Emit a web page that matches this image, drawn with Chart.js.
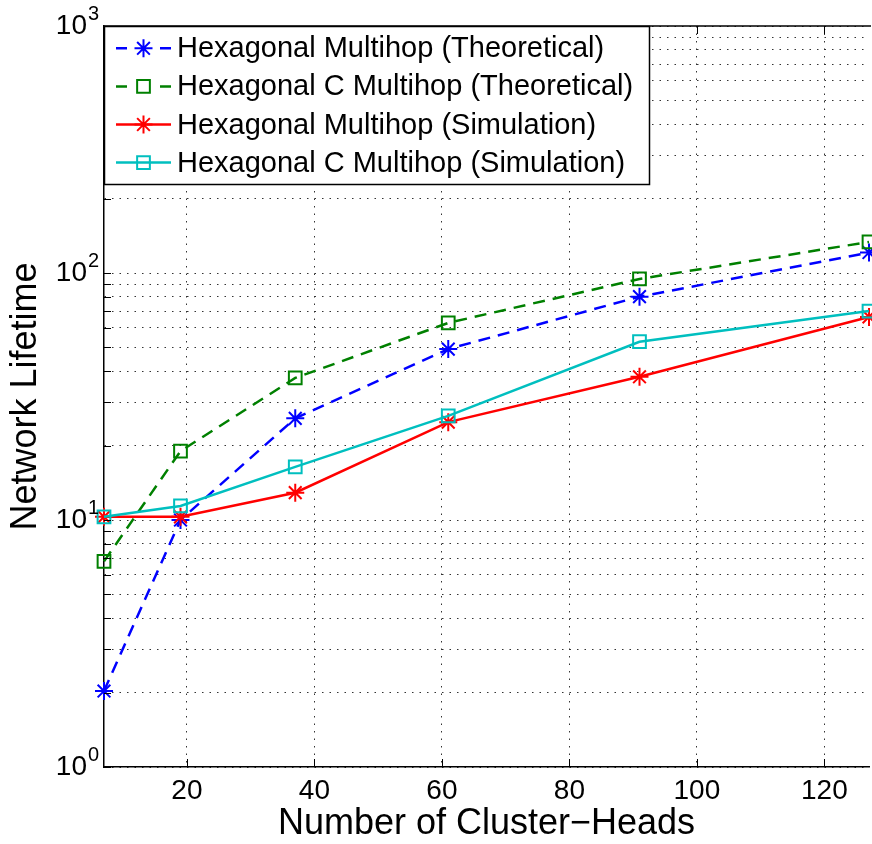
<!DOCTYPE html>
<html><head><meta charset="utf-8">
<script src="https://cdn.jsdelivr.net/npm/chart.js@4.4.0/dist/chart.umd.min.js"></script>
<style>
html,body{margin:0;padding:0;background:#fff;overflow:hidden;width:872px;height:844px;}
#wrap{width:880px;height:844px;}
canvas{display:block;}
</style></head><body>
<div id="wrap"><canvas id="c" width="880" height="844"></canvas></div>
<script>
// ---- data ----
const xValues = [7, 19, 37, 61, 91, 127];
const hexTheoretical  = [2.03, 10.0, 25.8, 49.2, 80.2, 121];
const hexCTheoretical = [6.8, 19.0, 37.6, 62.8, 94.6, 133.6];
const hexSimulation   = [10.3, 10.3, 12.9, 24.9, 38.0, 66.4];
const hexCSimulation  = [10.3, 11.4, 16.4, 26.4, 52.7, 70.1];
const seriesLabels = [
  'Hexagonal Multihop (Theoretical)',
  'Hexagonal C Multihop (Theoretical)',
  'Hexagonal Multihop (Simulation)',
  'Hexagonal C Multihop (Simulation)'
];
const xTicks = [20, 40, 60, 80, 100, 120];
const yTicks = [1,2,3,4,5,6,7,8,9,10,20,30,40,50,60,70,80,90,100,200,300,400,500,600,700,800,900,1000];
const yDecadeExp = {1:'0', 10:'1', 100:'2', 1000:'3'};
const xTitle = 'Number of Cluster\u2212Heads';
const yTitle = 'Network Lifetime';

const FONT = "'Liberation Sans', Arial, Helvetica, sans-serif";
const toPts = arr => arr.map((v, i) => ({x: xValues[i], y: v}));

function mkSet(label, data, color, dashed, style, order) {
  return {
    label, data: toPts(data),
    borderColor: color, backgroundColor: 'rgba(0,0,0,0)',
    borderWidth: 2.5, borderDash: dashed ? [12, 8] : [],
    pointStyle: style, pointRadius: 9, pointHoverRadius: 9,
    pointBorderColor: color, pointBackgroundColor: 'rgba(0,0,0,0)', pointBorderWidth: 2,
    tension: 0, clip: false, order
  };
}

function drawMarker(ctx, style, x, y, r) {
  ctx.beginPath();
  if (style === 'star') {
    ctx.moveTo(x, y - r); ctx.lineTo(x, y + r);
    ctx.moveTo(x - r, y); ctx.lineTo(x + r, y);
    const d = Math.SQRT1_2 * r;
    ctx.moveTo(x - d, y - d); ctx.lineTo(x + d, y + d);
    ctx.moveTo(x - d, y + d); ctx.lineTo(x + d, y - d);
  } else {
    const s = Math.SQRT1_2 * r;
    ctx.rect(x - s, y - s, 2 * s, 2 * s);
  }
  ctx.stroke();
}

const decorPlugin = {
  id: 'decor',
  afterDraw(chart) {
    const ctx = chart.ctx, ca = chart.chartArea;
    const xs = chart.scales.x, ys = chart.scales.y;
    ctx.save();
    // inward tick marks
    ctx.strokeStyle = '#000'; ctx.lineWidth = 1;
    ctx.beginPath();
    xTicks.forEach(v => {
      const px = Math.round(xs.getPixelForValue(v)) + 0.5;
      ctx.moveTo(px, ca.bottom); ctx.lineTo(px, ca.bottom - 8);
      ctx.moveTo(px, ca.top); ctx.lineTo(px, ca.top + 8);
    });
    yTicks.forEach(v => {
      const py = Math.round(ys.getPixelForValue(v)) + 0.5;
      ctx.moveTo(ca.left, py); ctx.lineTo(ca.left + 7, py);
    });
    ctx.stroke();
    // top border
    ctx.lineWidth = 1.5;
    ctx.beginPath(); ctx.moveTo(ca.left, ca.top); ctx.lineTo(ca.right + 2, ca.top); ctx.stroke();
    // decade exponents
    ctx.fillStyle = '#000';
    ctx.font = '20px ' + FONT;
    ctx.textAlign = 'left'; ctx.textBaseline = 'alphabetic';
    Object.keys(yDecadeExp).forEach(k => {
      const py = ys.getPixelForValue(Number(k));
      ctx.fillText(yDecadeExp[k], ca.left - 16, py - 6);
    });
    // legend box
    const bx = ca.left + 0.5, by = ca.top + 0.5, bw = 545, bh = 158;
    ctx.fillStyle = '#fff';
    ctx.fillRect(bx, by, bw, bh);
    ctx.strokeStyle = '#000'; ctx.lineWidth = 1.5;
    ctx.strokeRect(bx, by, bw, bh);
    chart.data.datasets.forEach((ds, i) => {
      const cy = ca.top + 22.3 + i * 38.1;
      ctx.strokeStyle = ds.borderColor;
      ctx.lineWidth = ds.borderWidth;
      if (ds.borderDash.length) {
        ctx.beginPath();
        ctx.moveTo(ca.left + 12, cy); ctx.lineTo(ca.left + 23, cy);
        ctx.moveTo(ca.left + 56, cy); ctx.lineTo(ca.left + 67, cy);
        ctx.stroke();
      } else {
        ctx.beginPath(); ctx.moveTo(ca.left + 12, cy); ctx.lineTo(ca.left + 67, cy); ctx.stroke();
      }
      ctx.lineWidth = ds.pointBorderWidth;
      drawMarker(ctx, ds.pointStyle, ca.left + 39.5, cy, 9);
      ctx.fillStyle = '#000';
      ctx.font = '29px ' + FONT;
      ctx.textBaseline = 'middle';
      ctx.fillText(ds.label, ca.left + 73, cy + 1);
    });
    ctx.restore();
  }
};

const gridCommon = { color: '#333', lineWidth: 1, drawTicks: false };

new Chart(document.getElementById('c'), {
  type: 'line',
  data: {
    datasets: [
      mkSet(seriesLabels[0], hexTheoretical, '#0000ff', true, 'star', 3),
      mkSet(seriesLabels[1], hexCTheoretical, '#008000', true, 'rect', 2),
      mkSet(seriesLabels[2], hexSimulation, '#ff0000', false, 'star', 1),
      mkSet(seriesLabels[3], hexCSimulation, '#00bfbf', false, 'rect', 0)
    ]
  },
  options: {
    responsive: false, animation: false, devicePixelRatio: 1,
    layout: { padding: { top: 26, right: 2, left: 0, bottom: 0 } },
    plugins: { legend: { display: false }, tooltip: { enabled: false } },
    scales: {
      x: {
        type: 'linear', min: 7, max: 127,
        afterBuildTicks: s => { s.ticks = xTicks.map(v => ({value: v})); },
        afterFit: s => { s.height = 77; },
        grid: gridCommon,
        border: { display: true, color: '#000', width: 1.5, dash: [1.5, 6] },
        ticks: { font: { family: FONT, size: 28, lineHeight: 1.2 }, color: '#000', padding: 7, maxRotation: 0, autoSkip: false },
        title: { display: true, text: xTitle, font: { family: FONT, size: 36 }, color: '#000', padding: { top: 0, bottom: -2 } }
      },
      y: {
        type: 'logarithmic', min: 1, max: 1000,
        afterBuildTicks: s => { s.ticks = yTicks.map(v => ({value: v, major: yDecadeExp[v] !== undefined})); },
        afterFit: s => { s.width = 104; },
        grid: gridCommon,
        border: { display: true, color: '#000', width: 1.5, dash: [1.5, 6] },
        ticks: {
          font: { family: FONT, size: 28, lineHeight: 0.4 }, color: '#000', padding: 17, autoSkip: false,
          callback: v => (yDecadeExp[v] !== undefined ? '10' : '')
        },
        title: { display: true, text: yTitle, font: { family: FONT, size: 36 }, color: '#000', padding: { top: 4, bottom: 0 } }
      }
    }
  },
  plugins: [decorPlugin]
});
</script>
</body></html>
